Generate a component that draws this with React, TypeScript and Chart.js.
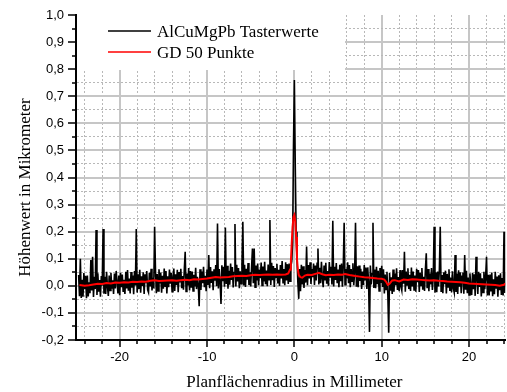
import React, { useEffect, useRef } from 'react';
import { Chart, registerables } from 'chart.js';

Chart.register(...registerables);

// ---- data ----
const SERIES_NAMES = ['AlCuMgPb Tasterwerte', 'GD 50 Punkte'];
const X_TITLE = 'Planflächenradius in Millimeter';
const Y_TITLE = 'Höhenwert in Mikrometer';

const X_MIN = -25.0;
const X_MAX = 24.15;
const Y_MIN = -0.2;
const Y_MAX = 1.0;
const X_LABELED = [-20, -10, 0, 10, 20];

// Tasterwerte: sampled every 0.1 mm starting at -24.7 mm
const TASTER_X_START = -24.7;
const TASTER_X_STEP = 0.1;
const TASTER_Y = [
  0.04, -0.038, 0.1, -0.045, 0.022, -0.04, 0.047, -0.012, 0.037, -0.046,
  0.038, -0.039, 0.013, -0.027, 0.095, -0.017, 0.107, -0.041, 0.033, -0.012,
  0.206, -0.034, 0.046, -0.022, 0.021, -0.04, 0.036, 0.001, 0.21, -0.029,
  0.033, -0.03, 0.052, -0.002, -0.037, 0.038, -0.017, 0.048, -0.01, 0.02,
  -0.03, 0.045, -0.01, 0.055, 0.015, -0.028, 0.038, -0.035, 0.048, -0.005,
  0.042, -0.023, 0.022, -0.03, 0.052, -0.01, 0.058, -0.018, 0.027, -0.028,
  0.051, -0.007, 0.038, -0.031, 0.055, 0.001, 0.21, -0.025, 0.043, -0.012,
  0.059, -0.025, 0.035, 0, 0.05, -0.03, 0.043, 0.01, 0.055, -0.015,
  -0.024, 0.048, -0.002, 0.063, -0.017, 0.03, -0.01, 0.218, 0.058, -0.027,
  0.044, -0.019, 0.061, 0.009, 0.049, -0.025, 0.037, -0.011, 0.064, -0.001,
  0.055, -0.028, 0.035, -0.005, 0.06, 0.008, 0.048, -0.022, 0.03, 0.064,
  -0.019, 0.043, 0.003, 0.059, -0.024, 0.051, 0.013, 0.063, -0.009, 0.036,
  -0.014, 0.061, 0.126, -0.021, 0.046, 0.001, 0.066, -0.017, 0.055, -0.007,
  0.053, -0.019, 0.041, -0.002, 0.067, -0.012, 0.033, 0.003, -0.075, 0.061,
  -0.015, 0.053, 0.01, 0.07, -0.005, 0.037, -0.02, 0.06, 0.003, 0.114,
  -0.009, 0.069, 0.011, 0.054, -0.016, 0.061, 0.019, 0.077, -0.001, 0.23,
  -0.01, 0.062, 0.012, -0.067, 0.076, 0.017, 0.07, -0.003, 0.215, 0.007,
  0.074, -0.011, 0.056, 0.004, 0.082, 0.022, 0.069, -0.006, 0.049, 0.228,
  -0.002, 0.078, 0.016, 0.066, -0.009, 0.054, 0.008, 0.081, 0.237, 0.001,
  0.078, -0.004, 0.063, 0.023, 0.084, 0.003, 0.05, -0.002, 0.068, 0.138,
  0.01, 0.138, -0.005, 0.075, 0.02, 0.082, 0.002, 0.06, 0.028, 0.086,
  0.001, 0.071, 0.016, 0.089, 0.006, 0.056, -0.001, 0.079, 0.023, 0.243,
  0.003, 0.085, 0.021, 0.073, -0.004, 0.066, 0.031, 0.081, 0.009, 0.059,
  0, 0.077, 0.027, 0.092, 0.012, 0.062, 0.002, 0.087, 0.02, 0.08,
  0.007, 0.082, 0.017, 0.072, 0.09, 0.16, 0.52, 0.76, 0.45, 0.2,
  0.1, 0.012, -0.048, 0.062, -0.02, 0.078, 0.005, 0.072, -0.008, 0.058,
  0.012, 0.145, 0.002, 0.077, 0.027, 0.087, 0.007, 0.062, 0.032, 0.082,
  0.003, 0.075, 0.02, 0.083, 0.138, 0.005, 0.067, 0.01, 0.089, 0.027,
  -0.005, 0.075, 0.02, 0.085, 0.008, 0.055, 0, 0.088, 0.03, 0.07,
  0.005, 0.24, -0.002, 0.07, 0.022, 0.084, 0.01, 0.06, -0.005, 0.078,
  0.017, 0.082, -0.003, 0.074, 0.233, 0.004, 0.062, 0.027, 0.087, 0.01,
  0.077, -0.005, 0.062, 0.017, 0.083, 0.002, 0.049, 0.233, -0.003, 0.072,
  -0.005, 0.075, 0.018, 0.063, -0.012, 0.053, 0.003, 0.077, 0.023, 0.068,
  -0.012, 0.068, 0.01, -0.17, 0.075, 0.005, 0.045, 0.233, -0.008, 0.06,
  -0.009, 0.07, 0.006, 0.056, -0.019, 0.066, 0.011, 0.074, -0.004, 0.061,
  -0.028, 0.042, -0.013, 0.052, -0.033, -0.173, 0.047, -0.018, 0.032, -0.03,
  0.06, -0.022, 0.045, 0.002, 0.065, -0.015, 0.032, -0.02, 0.058, -0.002,
  -0.017, 0.058, 0.008, 0.126, -0.022, 0.053, 0.003, 0.065, -0.012, 0.041,
  -0.019, 0.068, -0.002, 0.053, -0.015, 0.038, -0.022, 0.063, 0.013, 0.058,
  -0.023, 0.049, 0.001, 0.066, -0.014, 0.033, -0.019, 0.059, 0.12, -0.009,
  0.062, -0.02, 0.045, 0.005, 0.066, -0.015, 0.03, 0.218, -0.025, 0.05,
  -0.024, 0.053, -0.002, 0.058, 0.218, -0.02, 0.04, -0.027, 0.05, 0.006,
  0.056, -0.028, 0.044, -0.004, 0.061, -0.019, 0.031, -0.024, 0.054, -0.009,
  -0.025, 0.114, -0.023, 0.045, -0.03, 0.057, -0.003, 0.05, -0.027, 0.035,
  0.049, -0.029, 0.114, -0.014, 0.056, -0.027, 0.031, -0.034, 0.046, -0.004,
  -0.034, 0.048, -0.012, 0.043, -0.037, 0.107, 0.033, -0.03, 0.052, -0.004,
  0.046, -0.039, 0.028, -0.024, 0.052, -0.012, 0.036, 0.107, -0.036, 0.041,
  -0.036, 0.042, -0.021, 0.049, -0.038, 0.024, -0.031, 0.052, -0.011, 0.034,
  -0.04, 0.039, -0.016, 0.046, -0.034, 0.029, -0.036, 0.2, -0.026, 0.049,
];

// GD 50 Punkte (smoothed curve)
const GD_X = [
  -24.6, -24.0, -23.5, -23.0, -22.5, -22.0, -21.5, -21.0, -20.5, -20.0,
  -19.5, -19.0, -18.5, -18.0, -17.5, -17.0, -16.5, -16.0, -15.5, -15.0,
  -14.5, -14.0, -13.5, -13.0, -12.5, -12.0, -11.5, -11.0, -10.5, -10.0,
  -9.5, -9.0, -8.5, -8.0, -7.5, -7.0, -6.5, -6.0, -5.5, -5.0,
  -4.5, -4.0, -3.5, -3.0, -2.5, -2.0, -1.5, -1.0,
  -0.7, -0.5, -0.4, -0.3, -0.2, -0.1, 0.0, 0.1, 0.2, 0.3, 0.4, 0.5,
  0.7, 0.9, 1.2, 1.5, 2.0, 2.5, 2.8, 3.2, 3.6, 4.0,
  4.5, 5.0, 5.5, 5.8, 6.3, 7.0, 7.5, 8.0, 8.5, 9.0,
  9.5, 10.0, 10.3, 10.5, 10.7, 10.9, 11.2, 11.5,
  12.0, 12.5, 13.0, 13.5, 14.0, 14.5, 15.0, 15.5, 16.0, 16.5,
  17.0, 17.5, 18.0, 18.5, 19.0, 19.5, 20.0, 20.5, 21.0, 21.5,
  22.0, 22.5, 23.0, 23.5, 24.0, 24.15,
];
const GD_Y = [
  0.003, 0.0, 0.002, 0.005, 0.008, 0.007, 0.01, 0.009, 0.012, 0.011,
  0.013, 0.012, 0.015, 0.014, 0.016, 0.015, 0.019, 0.021, 0.018, 0.019,
  0.02, 0.021, 0.019, 0.021, 0.022, 0.021, 0.024, 0.023, 0.025, 0.027,
  0.03, 0.033, 0.031, 0.032, 0.033, 0.035, 0.036, 0.037, 0.036, 0.039,
  0.041, 0.04, 0.041, 0.042, 0.041, 0.042, 0.041, 0.042,
  0.046, 0.06, 0.09, 0.16, 0.22, 0.255, 0.262, 0.24, 0.18, 0.1, 0.06, 0.04,
  0.032, 0.03, 0.038, 0.041, 0.04, 0.045, 0.048, 0.043, 0.039, 0.041,
  0.04, 0.042, 0.041, 0.044, 0.04, 0.036, 0.034, 0.032, 0.031, 0.029,
  0.027, 0.026, 0.023, 0.015, 0.004, 0.008, 0.02, 0.021,
  0.016, 0.023, 0.022, 0.024, 0.023, 0.022, 0.021, 0.02, 0.021, 0.019,
  0.018, 0.016, 0.015, 0.014, 0.013, 0.011, 0.009, 0.008, 0.007, 0.006,
  0.005, 0.004, 0.003, 0.0, 0.004, 0.009,
];

// ---- styles ----
const SERIES_COLORS = ['#000000', '#ff0000'];
const MAJOR_GRID = '#c6c6c6';
const MINOR_GRID = '#b8b8b8';
const SERIF = '"Liberation Serif", "Times New Roman", serif';
const SANS = '"Liberation Sans", Arial, sans-serif';

const isMajorY = (v: number) => Math.abs(v * 10 - Math.round(v * 10)) < 1e-6;
const isMajorX = (v: number) => Math.abs(v / 10 - Math.round(v / 10)) < 1e-6;
const fmtY = (v: number) => (Math.abs(v) < 1e-9 ? 0 : v).toFixed(1).replace('.', ',');

const decoPlugin = {
  id: 'deco',
  beforeDatasetsDraw(chart: any) {
    const { ctx, chartArea } = chart;
    // white legend background covering the grid
    ctx.save();
    ctx.fillStyle = '#ffffff';
    ctx.fillRect(chartArea.left + 1, chartArea.top - 2, 345 - chartArea.left - 1, 70 - chartArea.top + 2);
    ctx.restore();
  },
  afterDraw(chart: any) {
    const { ctx, chartArea, scales } = chart;
    const xs = scales.x;
    const ys = scales.y;
    ctx.save();
    ctx.strokeStyle = '#000';
    ctx.lineWidth = 1.5;
    ctx.beginPath();
    for (const t of ys.ticks) {
      const p = Math.round(ys.getPixelForValue(t.value));
      const len = isMajorY(t.value) ? 8 : 4;
      ctx.moveTo(chartArea.left - len, p);
      ctx.lineTo(chartArea.left, p);
    }
    for (const t of xs.ticks) {
      const p = Math.round(xs.getPixelForValue(t.value));
      const len = isMajorX(t.value) ? 7 : 4;
      ctx.moveTo(p, chartArea.bottom);
      ctx.lineTo(p, chartArea.bottom + len);
    }
    ctx.stroke();

    // legend
    const rows = [31, 52];
    SERIES_NAMES.forEach((name, i) => {
      ctx.strokeStyle = SERIES_COLORS[i];
      ctx.lineWidth = 1.5;
      ctx.beginPath();
      ctx.moveTo(108, rows[i]);
      ctx.lineTo(151, rows[i]);
      ctx.stroke();
      ctx.fillStyle = '#000';
      ctx.font = `17px ${SERIF}`;
      ctx.textAlign = 'left';
      ctx.textBaseline = 'alphabetic';
      ctx.fillText(name, 157, rows[i] + 5.5);
    });

    // axis titles
    ctx.fillStyle = '#000';
    ctx.font = `17px ${SERIF}`;
    ctx.textAlign = 'center';
    ctx.textBaseline = 'alphabetic';
    ctx.fillText(X_TITLE, xs.getPixelForValue(0), 387);
    ctx.translate(29.5, 187.5);
    ctx.rotate(-Math.PI / 2);
    ctx.fillText(Y_TITLE, 0, 0);
    ctx.restore();
  },
};

export default function App() {
  const ref = useRef<HTMLCanvasElement | null>(null);

  useEffect(() => {
    if (!ref.current) return;
    const tasterData = TASTER_Y.map((y, i) => ({ x: TASTER_X_START + i * TASTER_X_STEP, y }));
    const gdData = GD_X.map((x, i) => ({ x, y: GD_Y[i] }));

    const chart = new Chart(ref.current, {
      type: 'line',
      data: {
        datasets: [
          {
            label: SERIES_NAMES[0],
            data: tasterData,
            borderColor: SERIES_COLORS[0],
            borderWidth: 1.6,
            pointRadius: 0,
            tension: 0,
            order: 1,
          },
          {
            label: SERIES_NAMES[1],
            data: gdData,
            borderColor: SERIES_COLORS[1],
            borderWidth: 2,
            pointRadius: 0,
            tension: 0,
            order: 0,
          },
        ],
      },
      options: {
        animation: false,
        responsive: false,
        devicePixelRatio: 1,
        events: [],
        layout: { padding: { top: 15, left: 0, right: 0, bottom: 0 } },
        plugins: { legend: { display: false }, tooltip: { enabled: false } },
        scales: {
          x: {
            type: 'linear',
            min: X_MIN,
            max: X_MAX,
            afterFit: (s: any) => { s.height = 52; },
            ticks: {
              stepSize: 2,
              autoSkip: false,
              includeBounds: false,
              maxRotation: 0,
              padding: 3,
              color: '#000',
              font: { family: SANS, size: 13 },
              callback: (v: any) => (X_LABELED.some((l) => Math.abs(l - v) < 1e-6) ? String(Math.round(v)) : ''),
            },
            grid: {
              color: (c: any) => (c.tick ? (isMajorX(c.tick.value) ? MAJOR_GRID : MINOR_GRID) : MAJOR_GRID),
              lineWidth: (c: any) => (c.tick && isMajorX(c.tick.value) ? 2 : 1),
              drawTicks: true,
              tickLength: 7,
              tickColor: 'rgba(0,0,0,0)',
            },
            border: {
              color: '#000',
              width: 2,
              dash: (c: any) => (c.tick && !isMajorX(c.tick.value) ? [2, 2] : []),
            },
          },
          y: {
            type: 'linear',
            min: Y_MIN,
            max: Y_MAX,
            afterFit: (s: any) => { s.width = 76; },
            ticks: {
              stepSize: 0.05,
              autoSkip: false,
              includeBounds: false,
              padding: 4,
              color: '#000',
              font: { family: SANS, size: 13 },
              callback: (v: any) => (isMajorY(v) ? fmtY(Number(v)) : ''),
            },
            grid: {
              color: (c: any) => {
                if (!c.tick) return MAJOR_GRID;
                const v = c.tick.value;
                if (Math.abs(v - Y_MAX) < 1e-6 || Math.abs(v - Y_MIN) < 1e-6) return 'rgba(0,0,0,0)';
                return isMajorY(v) ? MAJOR_GRID : MINOR_GRID;
              },
              lineWidth: (c: any) => (c.tick && isMajorY(c.tick.value) ? 2 : 1),
              drawTicks: true,
              tickLength: 8,
              tickColor: 'rgba(0,0,0,0)',
            },
            border: {
              color: '#000',
              width: 2,
              dash: (c: any) => (c.tick && !isMajorY(c.tick.value) ? [2, 2] : []),
            },
          },
        },
      },
      plugins: [decoPlugin],
    } as any);

    return () => chart.destroy();
  }, []);

  return (
    <div style={{ position: 'absolute', left: 0, top: 0, width: 507, height: 392, background: '#fff' }}>
      <canvas ref={ref} width={507} height={392} style={{ display: 'block', width: 507, height: 392 }} />
    </div>
  );
}
